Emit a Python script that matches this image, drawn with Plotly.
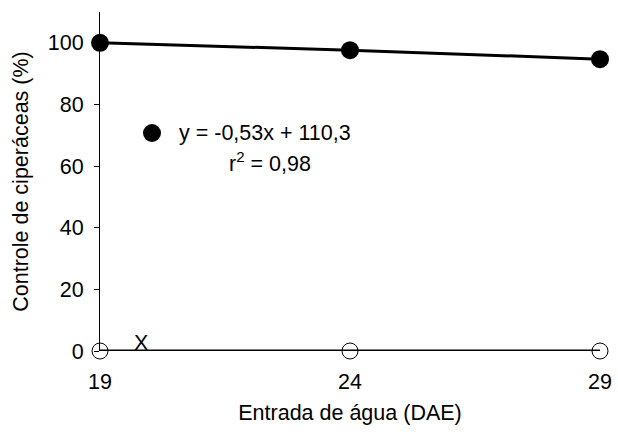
import plotly.graph_objects as go

x_days = [19, 24, 29]
controle_filled = [100, 97.6, 94.7]
controle_open = [0, 0, 0]
x_ticks = [19, 24, 29]
y_ticks = [0, 20, 40, 60, 80, 100]

FONT = "Liberation Sans"
FS = 21.5

# plot area targets: x 100..600, y 12..351 (body margin removed in post_script)
W, H = 618, 436
L, R, T, B = 100, 18, 12, 85

fig = go.Figure()
fig.add_trace(go.Scatter(
    x=x_days, y=controle_open, mode="lines+markers",
    line=dict(color="black", width=3),
    marker=dict(symbol="circle-open", size=16, color="black", line=dict(width=1)),
    cliponaxis=False, showlegend=False, hoverinfo="skip"))
fig.add_trace(go.Scatter(
    x=x_days, y=controle_filled, mode="lines+markers",
    line=dict(color="black", width=3),
    marker=dict(symbol="circle", size=18, color="black"),
    cliponaxis=False, showlegend=False, hoverinfo="skip"))

fig.update_layout(
    width=W, height=H,
    margin=dict(l=L, r=R, t=T, b=B, autoexpand=False),
    paper_bgcolor="white", plot_bgcolor="white",
    font=dict(family=FONT, size=FS, color="black"),
    xaxis=dict(range=[19, 29], tickvals=x_ticks, showline=False, showgrid=False,
               zeroline=False, ticks="", ticklabelstandoff=15, automargin=False,
               tickfont=dict(family=FONT, size=FS),
               title=dict(text="Entrada de água (DAE)", standoff=12,
                          font=dict(family=FONT, size=FS))),
    yaxis=dict(range=[0, 110], tickvals=y_ticks, showline=True, linecolor="black",
               linewidth=1, showgrid=False, zeroline=False, ticks="outside",
               ticklen=5, tickcolor="black", ticklabelstandoff=6, automargin=False,
               tickfont=dict(family=FONT, size=FS),
               title=dict(text="Controle de ciperáceas (%)", standoff=13,
                          font=dict(family=FONT, size=FS))),
)

PW, PH = 500, 339
fig.add_shape(type="circle", xref="paper", yref="paper",
              x0=(143-100)/PW, x1=(161-100)/PW,
              y0=(351-142)/PH, y1=(351-124)/PH,
              fillcolor="black", line=dict(color="black", width=0))
fig.add_annotation(xref="paper", yref="paper", x=(177-100)/PW, y=(351-133)/PH,
                   text="y = -0,53x + 110,3", showarrow=False, xanchor="left",
                   yanchor="middle", font=dict(family=FONT, size=FS))
fig.add_annotation(xref="paper", yref="paper", x=(227-100)/PW, y=(351-162)/PH,
                   text="r<sup>2</sup> = 0,98", showarrow=False, xanchor="left",
                   yanchor="middle", font=dict(family=FONT, size=FS))
fig.add_annotation(xref="paper", yref="paper", x=(141-100)/PW, y=(351-343)/PH,
                   text="X", showarrow=False, xanchor="center",
                   yanchor="middle", font=dict(family=FONT, size=FS))

fig.write_html("out.html", config={"displayModeBar": False},
               post_script="document.body.style.margin='0';document.body.style.overflow='hidden';")
